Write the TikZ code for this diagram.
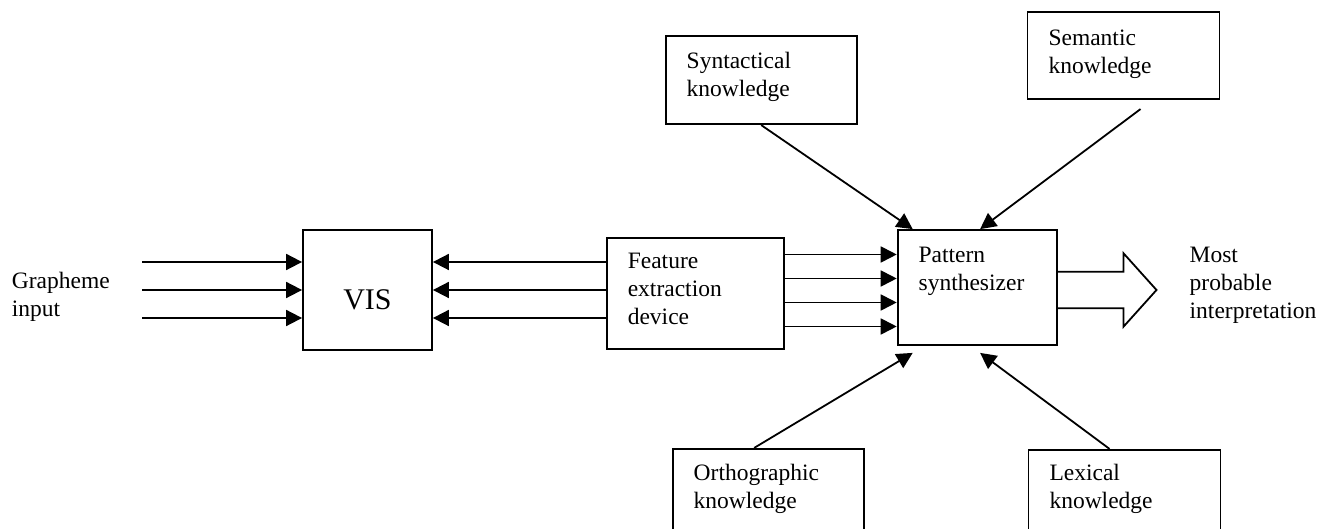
\documentclass[tikz,border=0pt]{standalone}
\usepackage{fontspec}
\setmainfont{Liberation Serif}
\usetikzlibrary{positioning,arrows.meta,calc}
\tikzset{unit/.style={rectangle, draw=black, line width=1.8pt,
    inner xsep=21pt, inner ysep=0pt, align=left,
    font=\fontsize{23.5}{28}\selectfont},
  myarrow/.style={-{Triangle[length=16pt,width=16pt]}, line width=1.8pt},
  bigarrow/.style={line width=1.8pt, line join=miter},
  freetext/.style={inner sep=0pt, align=left, font=\fontsize{23.5}{28}\selectfont}
}

\begin{document}
\begin{tikzpicture}[x=1pt,y=1pt]
   \useasboundingbox (0,0) rectangle (1325,529);

   %VIS node
   \node (vis) [unit, minimum width=129pt, text height=80pt, text depth=40pt,
   font=\fontsize{30}{36}\selectfont] at (367.5,239) {VIS};

   %Feature extraction node
   \node (feat) [unit, text width=135pt, text height=31pt, text depth=80pt,
   right=173pt of vis, yshift=-3.5pt] {Feature\\extraction\\device};

   %Pattern synthesizer node
   \node (pat) [unit, text width=117pt, text height=33pt, text depth=82pt,
   right=112pt of feat, yshift=6pt] {Pattern\\synthesizer};

   %Knowledge nodes round the synthesizer
   \node (syn) [unit, text width=149pt, text height=32pt, text depth=56pt,
   above left=104pt and 119.5pt of pat.north] {Syntactical\\knowledge};
   \node (sem) [unit, text width=150pt, text height=33pt, text depth=54pt,
   above right=129pt and 49.5pt of pat.north] {Semantic\\knowledge};
   \node (ortho) [unit, text width=149pt, text height=32pt, text depth=56pt,
   below left=102pt and 112.5pt of pat.south] {Orthographic\\knowledge};
   \node (lex) [unit, text width=150pt, text height=31pt, text depth=57pt,
   below right=103pt and 50.5pt of pat.south] {Lexical\\knowledge};

   %input and feedback arrows of VIS
   \foreach \dy [count=\i] in {28,0,-28}{
      \coordinate (in\i) at ([xshift=-160pt,yshift=\dy pt]vis.west);
      \coordinate (vr\i) at ([yshift=\dy pt]vis.east);
      \draw[myarrow] (in\i) -- (in\i -| vis.west);
      \draw[myarrow] (feat.west |- vr\i) -- (vr\i);
   }

   %features into the synthesizer
   \foreach \dy [count=\i] in {39,15,-9,-33}{
      \coordinate (fr\i) at ([yshift=\dy pt]feat.east);
      \draw[myarrow] (fr\i) -- (fr\i -| pat.west);
   }

   %knowledge arrows
   \draw[myarrow] (syn.south) -- ([xshift=16pt]pat.north west);
   \draw[myarrow] ([xshift=17pt,yshift=-9pt]sem.south) -- ([xshift=3pt]pat.north);
   \draw[myarrow] ([xshift=-14pt]ortho.north) -- ([xshift=16pt,yshift=-7pt]pat.south west);
   \draw[myarrow] ([xshift=-15pt]lex.north) -- ([xshift=3pt,yshift=-7pt]pat.south);

   %output arrow
   \coordinate (outbase) at ([yshift=-2.5pt]pat.east);
   \coordinate (outtip) at ([xshift=99pt]outbase);
   \draw[bigarrow] ([yshift=18.3pt]outbase) -- ++(66,0) -- ++(0,18.4) -- (outtip)
   -- ++(-33,-36.7) -- ++(0,18.4) -- ++(-66,0);

   %free texts
   \node (inlabel) [freetext, text width=100pt, text height=16pt, text depth=34pt,
   left=30pt of in2, yshift=-8pt] {Grapheme\\input};
   \node (outlabel) [freetext, text width=130pt, text height=16pt, text depth=62pt,
   right=33pt of outtip, yshift=4pt] {Most\\probable\\interpretation};

\end{tikzpicture}
\end{document}
